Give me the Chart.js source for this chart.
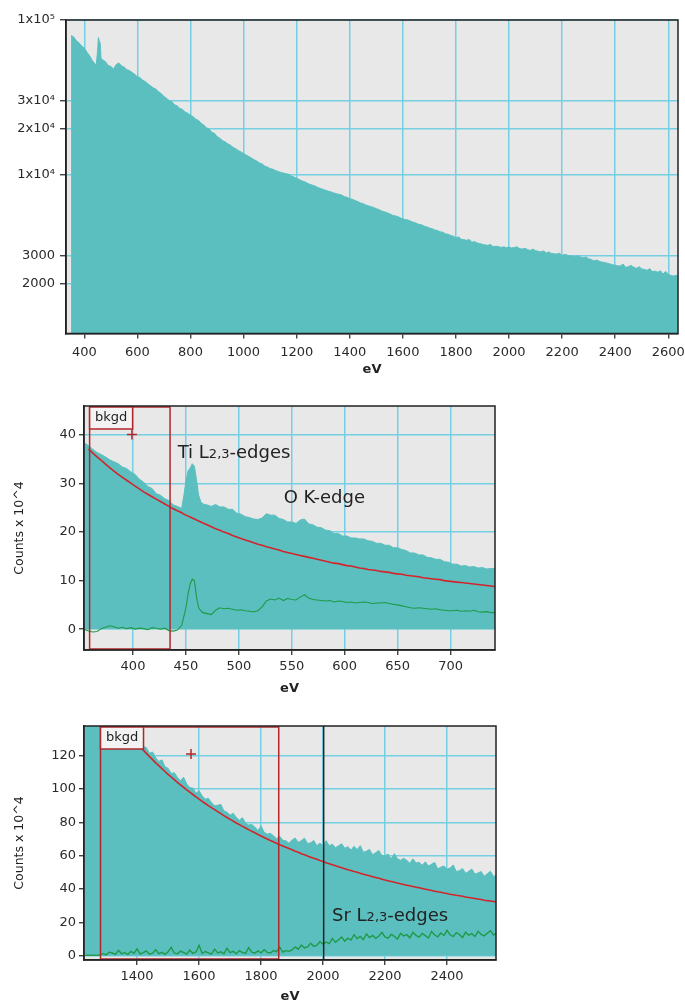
<!DOCTYPE html>
<html><head><meta charset="utf-8">
<script src="https://cdn.jsdelivr.net/npm/chart.js@4.4.1/dist/chart.umd.min.js"></script>
<style>
html,body{margin:0;padding:0;background:#fff;width:685px;height:1004px;overflow:hidden;}
canvas{position:absolute;left:0;}
</style></head><body>
<canvas id="c1" style="top:0px" width="685" height="385"></canvas>
<canvas id="c2" style="top:385px" width="685" height="320"></canvas>
<canvas id="c3" style="top:705px" width="685" height="299"></canvas>
<script>
// ---------------- DATA ----------------
// Top: full spectrum (log counts)
const topEV = [
350,360,370,380,390,
400,410,420,430,440,445,450,453,456,460,463,470,480,490,
500,510,520,530,540,550,560,570,580,590,
600,610,620,630,640,650,660,670,680,690,
700,710,720,730,740,750,760,770,780,790,
800,810,820,830,840,850,860,870,880,890,
900,910,920,930,940,950,960,970,980,990,
1000,1010,1020,1030,1040,1050,1060,1070,1080,1090,
1100,1110,1120,1130,1140,1150,1160,1170,1180,1190,
1200,1210,1220,1230,1240,1250,1260,1270,1280,1290,
1300,1310,1320,1330,1340,1350,1360,1370,1380,1390,
1400,1410,1420,1430,1440,1450,1460,1470,1480,1490,
1500,1510,1520,1530,1540,1550,1560,1570,1580,1590,
1600,1610,1620,1630,1640,1650,1660,1670,1680,1690,
1700,1710,1720,1730,1740,1750,1760,1770,1780,1790,
1800,1810,1820,1830,1840,1850,1860,1870,1880,1890,
1900,1910,1920,1930,1940,1950,1960,1970,1980,1990,
2000,2010,2020,2030,2040,2050,2060,2070,2080,2090,
2100,2110,2120,2130,2140,2150,2160,2170,2180,2190,
2200,2210,2220,2230,2240,2250,2260,2270,2280,2290,
2300,2310,2320,2330,2340,2350,2360,2370,2380,2390,
2400,2410,2420,2430,2440,2450,2460,2470,2480,2490,
2500,2510,2520,2530,2540,2550,2560,2570,2580,2590,
2600,2610,2620,2630,2640];
const topCounts = [
79500,77800,73500,71200,68000,
65800,62000,58800,54800,52300,51200,63500,77000,74000,70500,56500,55200,53800,50800,
50300,48200,51600,52800,50600,49700,47800,47200,45800,44600,
43000,42500,40800,40100,38700,37600,36500,35800,34400,33500,
32100,31200,30200,29700,28400,27900,26900,26500,25500,25000,
24300,23800,22900,22500,21600,21000,20200,19800,18900,18600,
17700,17300,16700,16400,15900,15600,15100,14800,14400,14100,
13750,13450,13150,12850,12550,12300,11950,11800,11400,11250,
11000,10900,10700,10550,10400,10300,10200,10100,9850,9700,
9500,9350,9150,9050,8850,8700,8600,8480,8300,8180,
8080,7960,7850,7780,7650,7580,7500,7420,7250,7180,
7030,6970,6850,6740,6610,6540,6410,6330,6250,6180,
6060,5990,5860,5800,5710,5630,5510,5460,5400,5300,
5200,5160,5120,5030,4950,4900,4800,4780,4680,4630,
4550,4510,4420,4390,4300,4280,4180,4150,4080,4030,
3940,3990,3850,3830,3790,3840,3680,3720,3640,3610,
3570,3540,3520,3560,3450,3470,3460,3410,3440,3400,
3430,3380,3410,3440,3350,3330,3370,3300,3260,3330,
3250,3220,3190,3240,3140,3190,3120,3100,3090,3130,
3030,3080,3040,3000,3010,2970,3020,2950,2930,2960,
2880,2850,2790,2830,2780,2740,2730,2700,2670,2640,
2620,2590,2600,2660,2530,2570,2610,2540,2500,2560,
2480,2460,2430,2490,2380,2400,2360,2410,2300,2390,
2280,2250,2230,2260,2180];
const topXTicks = [400,600,800,1000,1200,1400,1600,1800,2000,2200,2400,2600];
const topYTicks = [2000,3000,10000,20000,30000,100000];
const topYLabels = ['2000','3000','1x10\u2074','2x10\u2074','3x10\u2074','1x10\u2075'];

// Middle: Ti L2,3 / O K region (counts x 10^4)
const midEV = [
354,358,362,366,370,374,378,382,386,390,394,398,
402,406,410,414,418,422,426,430,434,438,442,446,448,450,452,454,456,458,460,462,464,466,470,474,478,482,486,490,494,498,
502,506,510,514,518,522,526,530,534,538,542,546,550,554,558,562,566,570,574,578,582,586,590,594,598,
602,606,610,614,618,622,626,630,634,638,642,646,650,654,658,662,666,670,674,678,682,686,690,694,698,
702,706,710,714,718,722,726,730,734,738,742];
const midSpectrum = [
38.4,37.8,37.1,36.4,36.0,35.5,34.9,34.5,34.1,33.4,33.1,32.4,
31.9,30.9,30.3,29.4,29.0,27.9,27.6,26.9,26.5,25.6,25.3,24.9,27.5,30.5,32.6,33.2,34.1,33.6,30.8,27.6,26.3,25.8,25.6,25.3,25.7,25.2,25.2,24.7,24.7,23.9,
23.7,23.2,23.0,22.7,22.6,22.9,23.8,23.5,23.5,22.8,22.6,22.1,22.1,21.8,22.5,22.7,21.7,21.5,21.0,20.9,20.4,20.3,19.7,19.7,19.2,
19.2,18.8,18.8,18.6,18.6,18.2,18.1,17.7,17.7,17.3,17.3,16.8,16.8,16.4,16.2,15.7,15.7,15.3,15.3,14.8,14.7,14.4,14.4,13.9,13.8,
13.4,13.4,13.0,13.1,12.8,12.9,12.6,12.7,12.4,12.5,12.5];
const midBackground = [
null,37.1,36.3,35.5,34.8,34.0,33.3,32.6,31.9,31.3,30.7,30.1,
29.5,28.9,28.3,27.8,27.3,26.8,26.3,25.8,25.3,24.8,24.4,24.0,23.7,23.5,23.3,23.1,22.9,22.7,22.5,22.3,22.1,21.9,21.5,21.1,20.7,20.4,20.0,19.7,19.3,19.0,
18.7,18.4,18.1,17.8,17.5,17.3,17.0,16.8,16.5,16.3,16.0,15.8,15.6,15.4,15.2,15.0,14.8,14.6,14.4,14.2,14.0,13.8,13.6,13.5,13.3,
13.1,13.0,12.8,12.6,12.5,12.3,12.2,12.1,11.9,11.8,11.7,11.5,11.4,11.3,11.1,11.0,10.9,10.8,10.6,10.5,10.4,10.3,10.2,10.0,9.9,
9.8,9.7,9.6,9.5,9.4,9.3,9.2,9.1,9.0,8.9,8.8];
const midSignal = [
0.0,-0.4,-0.6,-0.5,0.1,0.4,0.7,0.5,0.2,0.4,0.1,0.3,
0.0,0.2,0.1,-0.1,0.3,0.2,0.0,0.2,-0.3,-0.4,-0.2,0.8,2.6,4.4,7.2,9.3,10.3,10.0,6.6,4.4,3.8,3.4,3.2,3.0,3.9,4.4,4.2,4.3,4.1,3.9,
4.0,3.8,3.7,3.6,3.8,4.6,5.8,6.2,6.0,6.4,5.9,6.3,6.1,6.0,6.6,7.1,6.4,6.1,6.0,5.9,5.8,5.9,5.6,5.8,5.7,
5.5,5.6,5.4,5.5,5.6,5.5,5.3,5.4,5.4,5.5,5.3,5.1,5.0,4.8,4.6,4.4,4.3,4.4,4.3,4.2,4.1,4.2,4.0,3.9,3.8,
3.8,3.9,3.7,3.8,3.7,3.9,3.6,3.5,3.6,3.4,3.4];
const midXTicks = [400,450,500,550,600,650,700];
const midYTicks = [0,10,20,30,40];

// Bottom: Sr L2,3 region (counts x 10^4)
const botEV = [
1230,1240,1250,1260,1270,1280,1290,
1300,1310,1320,1330,1340,1350,1360,1370,1380,1390,
1400,1410,1420,1430,1440,1450,1460,1470,1480,1490,
1500,1510,1520,1530,1540,1550,1560,1570,1580,1590,
1600,1610,1620,1630,1640,1650,1660,1670,1680,1690,
1700,1710,1720,1730,1740,1750,1760,1770,1780,1790,
1800,1810,1820,1830,1840,1850,1860,1870,1880,1890,
1900,1910,1920,1930,1940,1950,1960,1970,1980,1990,
2000,2010,2020,2030,2040,2050,2060,2070,2080,2090,
2100,2110,2120,2130,2140,2150,2160,2170,2180,2190,
2200,2210,2220,2230,2240,2250,2260,2270,2280,2290,
2300,2310,2320,2330,2340,2350,2360,2370,2380,2390,
2400,2410,2420,2430,2440,2450,2460,2470,2480,2490,
2500,2510,2520,2530,2540,2550,2560];
const botSpectrum = [
165,163,162,160,159,158,156,
153,151,148,146,143,141,139,136,134,132,
130,128,125.5,124.8,121.4,122.2,118.8,116.5,117.5,113.3,
112.4,109.3,109.8,107.0,104.9,107.1,103.0,100.8,100.6,97.5,
98.9,95.9,93.9,94.4,91.9,89.9,90.2,90.8,86.9,86.1,
84.3,85.4,83.0,81.2,82.8,79.6,78.4,78.7,77.2,75.1,
77.8,74.0,72.9,73.4,71.9,70.2,71.7,69.2,69.0,67.5,
69.3,70.6,68.0,69.0,70.5,67.3,67.7,69.1,66.0,67.5,
65.9,69.0,65.9,66.9,64.8,65.9,67.2,64.4,65.4,63.4,
65.6,63.6,66.0,62.0,62.7,63.7,60.5,61.8,63.1,59.9,
60.1,60.9,58.1,61.2,58.1,57.2,58.4,57.2,55.4,58.1,
55.6,56.0,54.2,56.3,53.8,54.8,56.0,52.1,53.1,53.8,
51.9,52.6,54.4,50.5,51.0,52.3,49.4,50.6,52.0,48.9,
49.6,50.5,47.6,49.2,50.6,47.5,48.3];
const botBackground = [
null,null,null,null,null,156.2,153.5,
150.8,148.2,145.6,143.1,140.7,138.4,136.1,133.8,131.6,129.4,
127.4,125.3,123.3,121.4,119.4,117.6,115.7,114.0,112.2,110.5,
108.8,107.2,105.6,104.0,102.5,101.0,99.5,98.1,96.7,95.3,
93.9,92.6,91.3,90.0,88.8,87.6,86.4,85.2,84.0,82.9,
81.8,80.7,79.6,78.6,77.6,76.6,75.6,74.6,73.7,72.7,
71.8,70.9,70.0,69.1,68.3,67.5,66.6,65.8,65.0,64.3,
63.5,62.7,62.0,61.2,60.5,59.8,59.1,58.4,57.8,57.1,
56.5,55.8,55.2,54.6,54.0,53.4,52.8,52.2,51.6,51.1,
50.5,50.0,49.4,48.9,48.4,47.9,47.4,46.9,46.4,45.9,
45.4,45.0,44.5,44.1,43.6,43.2,42.7,42.3,41.9,41.5,
41.1,40.7,40.3,39.9,39.5,39.1,38.7,38.3,38.0,37.6,
37.3,36.9,36.6,36.2,35.9,35.6,35.2,34.9,34.6,34.3,
34.0,33.7,33.3,33.0,32.8,32.5,32.2];
const botSignal = [
0.2,0.3,0.2,0.3,0.2,0.4,1.2,
0.5,2.1,1.6,0.8,3.2,1.1,1.9,0.7,2.6,1.4,
4.1,1.0,1.8,2.9,0.9,1.5,3.6,1.2,2.0,0.8,
2.4,5.0,1.6,1.1,2.7,1.9,0.9,3.3,1.4,2.2,
6.2,1.3,2.5,1.7,0.9,3.9,1.6,2.3,1.1,4.4,
1.8,2.6,1.2,3.0,1.9,1.4,4.8,2.1,1.5,2.9,
1.7,3.6,2.0,1.6,3.1,2.4,5.2,2.2,3.0,2.6,
3.5,5.2,3.9,6.4,4.6,5.3,7.5,5.6,6.3,8.4,
6.9,8.1,7.2,10.3,8.0,9.6,11.2,8.7,10.5,9.4,
12.6,10.2,11.5,9.6,13.0,10.9,12.1,10.4,11.8,13.9,
11.2,10.5,12.8,11.6,9.9,13.4,11.9,12.6,10.7,14.0,
12.2,11.1,13.3,12.0,10.6,14.5,12.4,11.3,13.6,12.1,
15.2,12.5,11.4,13.8,12.7,10.9,14.1,12.3,13.2,11.5,
14.6,12.8,11.9,13.5,15.0,12.4,13.7];
const botXTicks = [1400,1600,1800,2000,2200,2400];
const botYTicks = [0,20,40,60,80,100,120];

// ---------------- STYLE / HELPERS ----------------
Chart.defaults.font.family = '"DejaVu Sans"';
Chart.defaults.font.size = 13;
Chart.defaults.color = '#2a2a2a';
const TEAL = '#5bbfbf', GRID = '#74cfe2', RED = '#d4242b', WIN = '#b3262b', GREEN = '#1f9a48', INK = '#222';

function pts(xs, ys) { return xs.map((x, i) => ({x: x, y: ys[i]})); }

const deco = {
  id: 'deco',
  beforeDraw(chart) {
    const {ctx, chartArea: a} = chart;
    ctx.save();
    ctx.fillStyle = '#e8e8e8';
    ctx.fillRect(a.left, a.top, a.right - a.left, a.bottom - a.top);
    ctx.restore();
  },
  afterDraw(chart, args, o) {
    const {ctx, chartArea: a} = chart;
    const xs = chart.scales.x, ys = chart.scales.y;
    ctx.save();
    ctx.beginPath(); ctx.rect(a.left, a.top, a.right - a.left, a.bottom - a.top); ctx.clip();
    if (o.vline != null) {
      const vx = xs.getPixelForValue(o.vline);
      ctx.strokeStyle = INK; ctx.lineWidth = 1.5;
      ctx.beginPath(); ctx.moveTo(vx, a.top); ctx.lineTo(vx, a.bottom); ctx.stroke();
    }
    if (o.win) {
      const x0 = xs.getPixelForValue(o.win[0]), x1 = xs.getPixelForValue(o.win[1]);
      ctx.strokeStyle = WIN; ctx.lineWidth = 1.5;
      ctx.strokeRect(x0, a.top + 1, x1 - x0, a.bottom - a.top - 2);
      ctx.fillStyle = '#f3f3f3';
      ctx.fillRect(x0, a.top + 1, 43, 22);
      ctx.strokeRect(x0, a.top + 1, 43, 22);
      ctx.fillStyle = INK; ctx.font = '13px "DejaVu Sans"';
      ctx.textAlign = 'center'; ctx.textBaseline = 'middle';
      ctx.fillText('bkgd', x0 + 21.5, a.top + 12);
    }
    if (o.cross) {
      const cx = xs.getPixelForValue(o.cross[0]), cy = ys.getPixelForValue(o.cross[1]);
      ctx.strokeStyle = WIN; ctx.lineWidth = 1.5;
      ctx.beginPath();
      ctx.moveTo(cx - 5, cy); ctx.lineTo(cx + 5, cy);
      ctx.moveTo(cx, cy - 5); ctx.lineTo(cx, cy + 5);
      ctx.stroke();
    }
    (o.labels || []).forEach(l => {
      let px = xs.getPixelForValue(l.at[0]);
      const base = ys.getPixelForValue(l.at[1]) + 6.5;
      ctx.fillStyle = INK; ctx.textAlign = 'left'; ctx.textBaseline = 'alphabetic';
      l.parts.forEach(p => {
        ctx.font = p[1] + 'px "DejaVu Sans"';
        ctx.fillText(p[0], px, base);
        px += ctx.measureText(p[0]).width;
      });
    });
    ctx.restore();
    ctx.save();
    ctx.strokeStyle = INK; ctx.lineWidth = 1.5;
    ctx.strokeRect(a.left, a.top, a.right - a.left, a.bottom - a.top);
    ctx.restore();
  }
};

function xAxis(min, max, ticks, h, pad, titlePad) {
  return {
    type: 'linear', min: min, max: max,
    afterBuildTicks: s => { s.ticks = ticks.map(v => ({value: v})); },
    afterFit: s => { s.height = h; s.paddingLeft = 0; s.paddingRight = 0; },
    ticks: {padding: pad, maxRotation: 0, autoSkip: false, color: '#2a2a2a', callback: v => String(v)},
    grid: {color: GRID, lineWidth: 1.5, tickColor: INK, tickLength: 5, tickWidth: 1.2},
    border: {display: true, color: INK, width: 1.5},
    title: {display: true, text: 'eV', color: INK, font: {size: 13, weight: 'bold'}, padding: {top: 0, bottom: titlePad}}
  };
}
function yAxisLin(min, max, ticks, w, pad, title) {
  return {
    type: 'linear', min: min, max: max,
    afterBuildTicks: s => { s.ticks = ticks.map(v => ({value: v})); },
    afterFit: s => { s.width = w; s.paddingTop = 0; s.paddingBottom = 0; },
    ticks: {padding: pad, autoSkip: false, color: '#2a2a2a', callback: v => String(v)},
    grid: {color: GRID, lineWidth: 1.5, tickColor: INK, tickLength: 5, tickWidth: 1.2},
    border: {display: true, color: INK, width: 1.5},
    title: {display: !!title, text: title, color: INK, font: {size: 12.5}, padding: {top: 12.5, bottom: 0}}
  };
}
function base(padding, scales, datasets, decoOpts) {
  return {
    type: 'line',
    data: {datasets: datasets},
    options: {
      responsive: false, animation: false, devicePixelRatio: 1,
      layout: {padding: padding, autoPadding: false},
      elements: {point: {radius: 0}, line: {tension: 0}},
      plugins: {legend: {display: false}, tooltip: {enabled: false}, deco: decoOpts},
      scales: scales
    },
    plugins: [deco]
  };
}
function teal(xs, ys, fill) {
  return {data: pts(xs, ys), borderColor: TEAL, backgroundColor: TEAL, borderWidth: 1, fill: fill, order: 3, clip: 0};
}
function line(xs, ys, color, w, order) {
  return {data: pts(xs, ys), borderColor: color, borderWidth: w, fill: false, order: order, clip: 0, spanGaps: false};
}

// ---------------- CHART 1 (log) ----------------
new Chart(document.getElementById('c1'), base(
  {left: 0, top: 20, right: 7, bottom: 0},
  {
    x: xAxis(331, 2636.5, topXTicks, 51.5, 6, 8),
    y: {
      type: 'logarithmic', min: 950, max: 100000,
      afterBuildTicks: s => { s.ticks = topYTicks.map(v => ({value: v})); },
      afterFit: s => { s.width = 66; s.paddingTop = 0; s.paddingBottom = 0; },
      ticks: {padding: 5, autoSkip: false, color: '#2a2a2a', callback: v => topYLabels[topYTicks.indexOf(v)]},
      grid: {color: GRID, lineWidth: 1.5, tickColor: INK, tickLength: 6, tickWidth: 1.2},
      border: {display: true, color: INK, width: 1.5}
    }
  },
  [teal(topEV, topCounts, 'start')],
  {}
));

// ---------------- CHART 2 ----------------
new Chart(document.getElementById('c2'), base(
  {left: 0, top: 21, right: 190, bottom: 0},
  {
    x: xAxis(353.7, 742, midXTicks, 55, 4, 9),
    y: yAxisLin(-4.3, 46.0, midYTicks, 84, 3, 'Counts x 10^4')
  },
  [
    line(midEV, midSignal, GREEN, 1.1, 1),
    line(midEV, midBackground, RED, 1.6, 2),
    teal(midEV, midSpectrum, 'origin')
  ],
  {
    win: [359, 435], cross: [399, 40.1],
    labels: [
      {at: [442.2, 36.6], parts: [['Ti L', 18], ['2,3', 13], ['-edges', 18]]},
      {at: [542.4, 27.4], parts: [['O K-edge', 18]]}
    ]
  }
));

// ---------------- CHART 3 ----------------
new Chart(document.getElementById('c3'), base(
  {left: 0, top: 21, right: 189, bottom: 0},
  {
    x: xAxis(1228.7, 2558, botXTicks, 44, 4, 0),
    y: yAxisLin(-2.6, 137.8, botYTicks, 84, 3, 'Counts x 10^4')
  },
  [
    line(botEV, botSignal, GREEN, 1.4, 1),
    line(botEV, botBackground, RED, 1.6, 2),
    teal(botEV, botSpectrum, 'origin')
  ],
  {
    win: [1282, 1857], cross: [1574, 121], vline: 2002,
    labels: [
      {at: [2029, 25.0], parts: [['Sr L', 18], ['2,3', 13], ['-edges', 18]]}
    ]
  }
));
</script>
</body></html>
